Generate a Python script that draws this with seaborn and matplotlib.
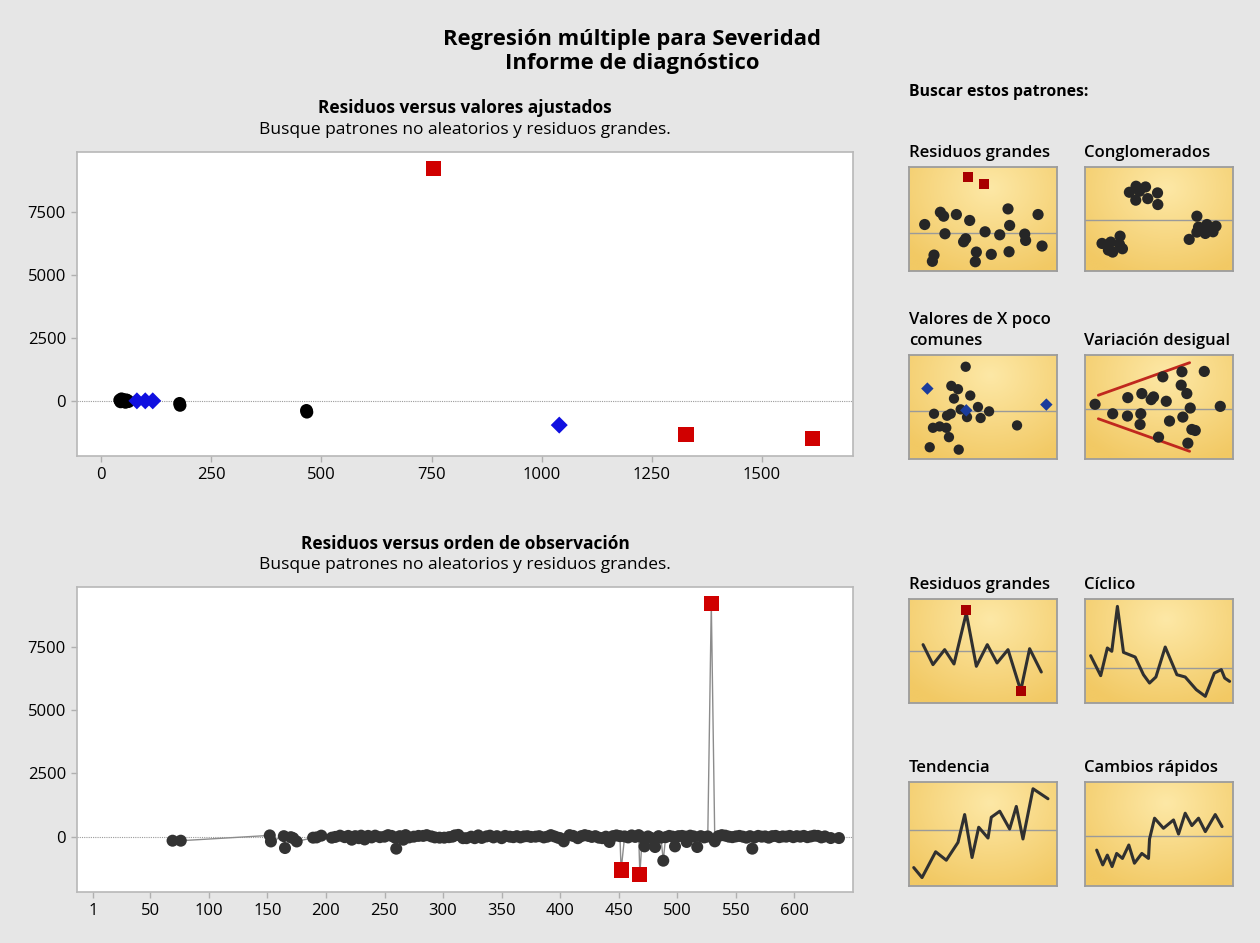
import numpy as np
import pandas as pd
import matplotlib
matplotlib.use('Agg')
import matplotlib.pyplot as plt
import seaborn as sns
from matplotlib.colors import LinearSegmentedColormap

# ---- residuos vs ajustados ----
fit_normal = [42, 44, 46, 48, 50, 52, 55, 57, 60, 62, 178, 179, 466, 467]
res_normal = [30, -40, 80, -20, 50, 0, -60, 40, 10, -30, -100, -180, -380, -450]
fit_unusual_x = [81, 100, 117, 1040]
res_unusual_x = [0, 0, 0, -963]
fit_large = [755, 1328, 1615]
res_large = [9231, -1331, -1490]

# ---- residuos vs orden ----
obs_order = [69, 76, 152, 153, 164, 165, 170, 172, 175, 189, 192, 196,
             205, 208, 212, 216, 219, 222, 225, 228, 230, 233, 236, 239, 242, 246,
             250, 253, 256, 259, 260, 263, 266, 268, 271, 275, 279, 283, 286, 290,
             293, 297, 301, 305, 308, 310, 313, 317, 320, 324, 327, 330, 333, 337,
             340, 343, 346, 350, 353, 357, 360, 363, 366, 369, 372, 375, 379, 382,
             386, 389, 392, 395, 398, 400, 403, 408, 411, 415, 418, 421, 424, 427,
             430, 433, 436, 439, 442, 445, 448, 451, 452, 455, 458, 461, 464, 467,
             468, 470, 472, 475, 478, 481, 484, 486, 488, 490, 493, 496, 498, 501,
             504, 507, 508, 511, 514, 517, 520, 523, 526, 529, 532, 535, 538, 541,
             544, 547, 550, 553, 556, 559, 562, 564, 566, 569, 572, 575, 578, 581,
             584, 587, 590, 593, 596, 599, 602, 605, 608, 611, 614, 617, 620, 623,
             626, 631, 638]
obs_resid = [-160, -160, 50, -190, 20, -450, -20, -60, -190, -40, -30, 40,
             -40, -10, 40, -20, 30, -120, 20, -60, 40, -110, 30, -30, 40, -20,
             0, 60, 30, -40, -475, 20, -120, 60, -30, 0, 30, 30, 60, 10,
             -30, -40, -40, -20, 0, 50, 70, -60, -60, 0, -60, 50, -50, 10,
             40, -30, 20, -60, 30, 0, -20, 20, -30, 10, 20, -10, 0, 20,
             -30, 0, 60, 10, -40, -60, -186, 60, 30, -60, 20, 60, 30, -10,
             20, -40, -60, 0, -210, 20, 50, 20, -1323, 10, -30, 50, -10, 60,
             -1494, -30, -385, 10, -60, -410, 20, -40, -951, -20, 30, 0, -385, 20,
             30, 0, -210, 40, 10, -410, 20, -30, 10, 9231, -186, 20, 60, 40,
             0, -20, 10, 30, 0, -40, 20, -475, -30, 30, 0, 10, -40, 20,
             30, -20, 10, 0, 30, -20, 20, 0, 30, -20, 10, 40, 30, -30,
             10, -55, -55]
large_obs = [452, 468, 529]

top_xticks = [0, 250, 500, 750, 1000, 1250, 1500]
bot_xticks = [1, 50, 100, 150, 200, 250, 300, 350, 400, 450, 500, 550, 600]
yticks = [0, 2500, 5000, 7500]

# ---- miniaturas (coordenadas 0-100) ----
big_x = [10.6, 21.2, 23.4, 32.0, 41.0, 66.9, 87.2, 68.0, 24.3, 38.3, 36.9, 51.4, 61.3,
         78.2, 78.8, 89.9, 16.9, 15.8, 45.5, 44.8, 55.6, 67.6]
big_y = [44.7, 56.5, 52.7, 54.3, 48.6, 59.7, 54.3, 43.8, 35.8, 31.0, 28.1, 37.7, 34.8,
         35.5, 29.4, 24.0, 15.3, 9.3, 18.2, 8.9, 16.0, 18.5]
big_red_x = [39.9, 50.7]
big_red_y = [90.1, 83.7]

clu_x = [34.5, 40.9, 30.0, 36.8, 49.0, 34.3, 42.4, 49.2, 75.6, 76.7, 82.4, 88.5, 75.6,
         81.3, 86.5, 70.4, 23.7, 11.5, 17.4, 23.3, 15.8, 18.7, 25.3]
clu_y = [81.5, 80.8, 75.7, 76.7, 75.1, 68.1, 69.6, 63.9, 52.7, 42.2, 44.7, 43.1, 37.4,
         36.1, 37.7, 30.4, 33.5, 26.5, 27.8, 25.6, 20.1, 18.2, 21.4]

ux_x = [38.3, 28.6, 33.1, 41.4, 30.4, 46.6, 16.9, 28.2, 25.7, 34.9, 39.2, 54.1, 48.4,
        16.2, 20.7, 25.2, 27.0, 73.0, 14.0, 33.6]
ux_y = [88.7, 70.3, 67.1, 61.0, 58.1, 50.0, 43.5, 43.5, 41.6, 47.7, 40.3, 45.8, 39.4,
        30.0, 31.3, 30.0, 21.0, 32.3, 11.3, 9.0]
ux_blue_x = [12.4, 38.7, 92.8]
ux_blue_y = [67.7, 46.8, 52.3]

var_x = [6.8, 18.7, 28.7, 28.9, 38.4, 37.7, 37.2, 44.7, 46.3, 54.9, 49.7, 52.6, 57.1,
         65.5, 65.0, 68.8, 66.1, 71.1, 72.2, 74.5, 69.5, 80.6, 91.4]
var_y = [52.6, 43.5, 41.3, 59.0, 62.9, 43.5, 33.2, 57.1, 59.7, 55.5, 21.0, 79.0, 36.5,
         83.9, 71.0, 62.9, 40.3, 49.0, 28.4, 27.4, 15.2, 84.2, 50.6]
wedge_x = [9.0, 70.7]
wedge_up = [61.3, 92.6]
wedge_low = [38.7, 7.4]

bigl_x = [9.5, 16.2, 24.1, 30.4, 38.7, 45.5, 52.9, 59.5, 66.9, 75.5, 81.5, 89.4]
bigl_y = [56.1, 36.9, 51.3, 37.5, 86.5, 35.3, 56.1, 38.5, 51.3, 11.9, 52.2, 29.8]
bigl_red_x = [38.7, 75.5]
bigl_red_y = [89.7, 11.2]

cyc_x = [3.8, 10.6, 15.1, 18.1, 21.9, 26.0, 33.9, 39.5, 43.6, 47.9, 54.2, 62.1, 67.7,
         75.2, 81.3, 87.4, 92.1, 94.4, 97.7]
cyc_y = [45.5, 26.3, 52.9, 49.7, 92.9, 48.7, 44.2, 27.2, 19.2, 25.0, 53.8, 27.2, 25.0,
         12.8, 6.4, 28.8, 32.1, 24.0, 20.8]

tre_x = [3.2, 8.8, 18.0, 25.2, 33.1, 37.6, 42.6, 47.1, 53.4, 55.6, 61.3, 68.0, 72.5,
         77.0, 83.8, 93.9]
tre_y = [17.7, 8.1, 32.9, 24.8, 41.9, 68.7, 27.4, 56.5, 46.1, 66.1, 71.9, 54.8, 76.5,
         45.2, 93.5, 83.9]

cam_x = [7.9, 12.0, 15.1, 18.3, 21.4, 25.3, 29.6, 33.4, 38.4, 42.9, 43.6, 47.0, 53.0,
         59.8, 63.2, 67.7, 72.2, 76.7, 81.3, 88.0, 92.6]
cam_y = [34.5, 20.3, 29.7, 18.7, 31.3, 26.5, 39.4, 21.9, 31.3, 26.5, 45.2, 65.2, 55.5,
         63.5, 50.0, 70.0, 58.1, 65.2, 52.3, 68.7, 57.1]

thumb_ref = {'big': 36.7, 'clu': 49.5, 'ux': 45.8, 'var': 48.4,
             'bigl': 50.3, 'cyc': 33.7, 'tre': 54.2, 'cam': 48.1}

BG = '#e6e6e6'
DARK = '#333333'
RED = '#d00000'
BLUE = '#1010e0'

sns.set_theme(style='white')
plt.rcParams['font.family'] = ['Open Sans', 'DejaVu Sans']
plt.rcParams['text.color'] = 'black'

W, H = 1260, 943
fig = plt.figure(figsize=(W / 100, H / 100), dpi=100, facecolor=BG)


def px_axes(left, top, right, bottom):
    return fig.add_axes([left / W, 1 - bottom / H, (right - left) / W, (bottom - top) / H])


def style_main(ax, xticks, xlim):
    ax.set_facecolor('white')
    ax.set_xlim(*xlim)
    ax.set_ylim(-2190, 9880)
    ax.set_xticks(xticks)
    ax.set_yticks(yticks)
    ax.axhline(0, color='#9a9a9a', lw=0.8, ls=(0, (1, 1)), zorder=1)
    for s in ax.spines.values():
        s.set_color('#b8b8b8')
        s.set_linewidth(1.2)
    ax.tick_params(axis='both', which='both', length=4, width=1, color='#b0b0b0',
                   labelsize=12, labelcolor='black', pad=4, direction='out',
                   bottom=True, left=True)
    ax.set_xlabel('')
    ax.set_ylabel('')


# top chart
ax1 = px_axes(77, 152, 853, 456)
sns.scatterplot(x=fit_normal, y=res_normal, color='black', marker='o', s=85,
                edgecolor='none', ax=ax1, zorder=3)
sns.scatterplot(x=fit_unusual_x, y=res_unusual_x, color=BLUE, marker='D', s=75,
                edgecolor='none', ax=ax1, zorder=3)
sns.scatterplot(x=fit_large, y=res_large, color=RED, marker='s', s=120,
                edgecolor='none', ax=ax1, zorder=3)
style_main(ax1, top_xticks, (-55, 1707))

# bottom chart
ax2 = px_axes(77, 587, 853, 892)
df = pd.DataFrame({'obs': obs_order, 'res': obs_resid})
df['large'] = df['obs'].isin(large_obs)
sns.lineplot(data=df, x='obs', y='res', color='#8c8c8c', lw=1.0, sort=False,
             estimator=None, ax=ax2, zorder=2)
sns.scatterplot(data=df[~df['large']], x='obs', y='res', color=DARK, marker='o', s=75,
                edgecolor='none', ax=ax2, zorder=3)
sns.scatterplot(data=df[df['large']], x='obs', y='res', color=RED, marker='s', s=120,
                edgecolor='none', ax=ax2, zorder=4)
style_main(ax2, bot_xticks, (-12.6, 650))

# titles
def ftext(x, y, s, **kw):
    fig.text(x / W, 1 - y / H, s, va='center', **kw)

ftext(632, 40, 'Regresión múltiple para Severidad', ha='center', fontsize=15.8, fontweight='bold')
ftext(632, 64, 'Informe de diagnóstico', ha='center', fontsize=15.8, fontweight='bold')
ftext(465, 108, 'Residuos versus valores ajustados', ha='center', fontsize=12.5, fontweight='bold')
ftext(465, 130, 'Busque patrones no aleatorios y residuos grandes.', ha='center', fontsize=12.5)
ftext(465, 544, 'Residuos versus orden de observación', ha='center', fontsize=12.5, fontweight='bold')
ftext(465, 565, 'Busque patrones no aleatorios y residuos grandes.', ha='center', fontsize=12.5)

# miniaturas
ycmap = LinearSegmentedColormap.from_list('amarillo', ['#f2c964', '#fde8a6'])
yy, xx = np.mgrid[0:1:120j, 0:1:170j]
grad = np.clip(1 - np.sqrt(((xx - 0.55) / 0.75) ** 2 + ((yy - 0.2) / 0.9) ** 2), 0, 1)

TW, TH = 148, 104
col_x = [909, 1085]
row_top = [167, 355, 599, 782]


def thumb(col, row, key):
    l, t = col_x[col], row_top[row]
    ax = px_axes(l, t, l + TW, t + TH)
    ax.imshow(grad, extent=[0, 100, 0, 100], cmap=ycmap, aspect='auto', zorder=0,
              vmin=0, vmax=1)
    ax.axhline(thumb_ref[key], color='#9a9a9a', lw=1.0, zorder=1)
    ax.set_xlim(0, 100)
    ax.set_ylim(0, 100)
    ax.set_xticks([])
    ax.set_yticks([])
    for s in ax.spines.values():
        s.set_color('#9c9c9c')
        s.set_linewidth(1.3)
    return ax


a = thumb(0, 0, 'big')
sns.scatterplot(x=big_x, y=big_y, color='#262626', s=65, edgecolor='none', ax=a, zorder=3)
sns.scatterplot(x=big_red_x, y=big_red_y, color='#a80000', marker='s', s=50, edgecolor='none', ax=a, zorder=3)

a = thumb(1, 0, 'clu')
sns.scatterplot(x=clu_x, y=clu_y, color='#262626', s=65, edgecolor='none', ax=a, zorder=3)

a = thumb(0, 1, 'ux')
sns.scatterplot(x=ux_x, y=ux_y, color='#262626', s=55, edgecolor='none', ax=a, zorder=3)
sns.scatterplot(x=ux_blue_x, y=ux_blue_y, color='#1a3c9c', marker='D', s=40, edgecolor='none', ax=a, zorder=3)

a = thumb(1, 1, 'var')
sns.lineplot(x=wedge_x, y=wedge_up, color='#c0281e', lw=2.0, ax=a, zorder=2)
sns.lineplot(x=wedge_x, y=wedge_low, color='#c0281e', lw=2.0, ax=a, zorder=2)
sns.scatterplot(x=var_x, y=var_y, color='#262626', s=65, edgecolor='none', ax=a, zorder=3)

for col, row, key, xs, ys in [(0, 2, 'bigl', bigl_x, bigl_y), (1, 2, 'cyc', cyc_x, cyc_y),
                              (0, 3, 'tre', tre_x, tre_y), (1, 3, 'cam', cam_x, cam_y)]:
    a = thumb(col, row, key)
    sns.lineplot(x=xs, y=ys, color='#303030', lw=2.2, sort=False, estimator=None, ax=a, zorder=2)
    if key == 'bigl':
        sns.scatterplot(x=bigl_red_x, y=bigl_red_y, color='#a80000', marker='s', s=50,
                        edgecolor='none', ax=a, zorder=3)

ftext(909, 92, 'Buscar estos patrones:', ha='left', fontsize=11.3, fontweight='bold')
labels = [(909, 153, 'Residuos grandes'), (1084, 153, 'Conglomerados'),
          (909, 320, 'Valores de X poco'), (909, 341, 'comunes'),
          (1084, 341, 'Variación desigual'),
          (909, 585, 'Residuos grandes'), (1084, 585, 'Cíclico'),
          (909, 768, 'Tendencia'), (1084, 768, 'Cambios rápidos')]
for x, y, s in labels:
    ftext(x, y, s, ha='left', fontsize=12, fontweight='semibold')

fig.savefig('out.png', dpi=100, facecolor=BG)
